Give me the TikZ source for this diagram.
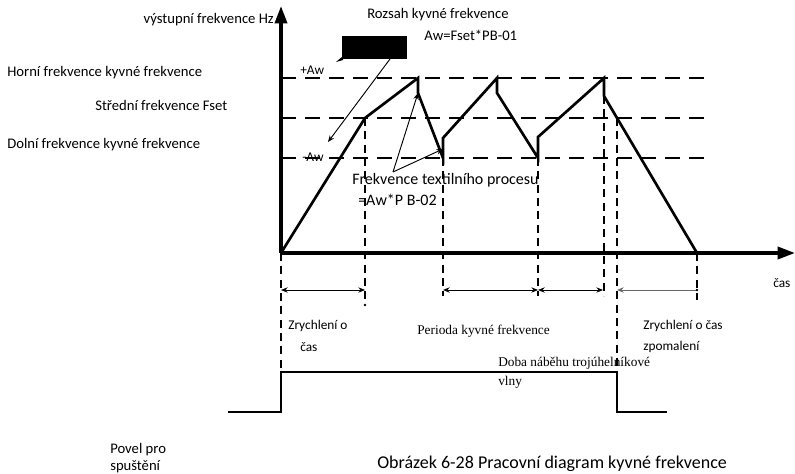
\documentclass[tikz,border=0pt]{standalone}
\usepackage{fontspec}
\setmainfont{Carlito}
\newfontfamily\timesfont{Liberation Serif}
\usetikzlibrary{arrows.meta,positioning}

\begin{document}
\begin{tikzpicture}[x=0.75pt,y=-0.75pt,
        axis/.style={line width=2.6pt,-{Triangle[length=13pt,width=9pt]}},
        level/.style={line width=2.2pt,dash pattern=on 11pt off 7pt},
        guide/.style={line width=2pt,dash pattern=on 6pt off 4pt},
        wave/.style={line width=2pt,line join=miter},
        span/.style={line width=0.7pt,{Stealth[length=5pt,width=4pt]}-{Stealth[length=5pt,width=4pt]}},
        callout/.style={line width=0.7pt,-{Stealth[length=5pt,width=4pt]}},
        lbl/.style={font=\fontsize{10}{12}\selectfont,inner sep=0pt,anchor=west},
        biglbl/.style={lbl,font=\fontsize{11}{13}\selectfont},
        tlbl/.style={lbl,font=\timesfont\fontsize{10}{12}\selectfont}]
        \useasboundingbox (0,0) rectangle (795,474);

        % axes
        \coordinate (O) at (281,253);
        \coordinate (ytop) at (281,6);
        \coordinate (xend) at (795,253);

        % swing levels
        \coordinate (hiL) at (281,78);  \coordinate (hiR) at (708,78);
        \coordinate (midL) at (281,118); \coordinate (midR) at (708,118);
        \coordinate (loL) at (281,158);  \coordinate (loR) at (708,158);

        % output frequency curve
        \coordinate (w1) at (365,118);
        \coordinate (w2) at (418,78);
        \coordinate (w3) at (418,93);
        \coordinate (w4) at (443,158);
        \coordinate (w5) at (443,138);
        \coordinate (w6) at (497,78);
        \coordinate (w7) at (497,93);
        \coordinate (w8) at (538,158);
        \coordinate (w9) at (538,137);
        \coordinate (w10) at (604,78);
        \coordinate (w11) at (604,96);
        \coordinate (w12) at (617,118);
        \coordinate (w13) at (697,253);

        % labels
        \node[biglbl,anchor=east] (yl) at (274,20) {výstupní frekvence Hz};
        \node[biglbl] (range) at (367,15) {Rozsah kyvné frekvence};
        \node[biglbl] (rangeeq) at (424,35) {Aw=Fset*PB-01};
        \node[biglbl] (upper) at (7,73) {Horní frekvence kyvné frekvence};
        \node[biglbl] (centre) at (95,105) {Střední frekvence Fset};
        \node[biglbl] (lower) at (7,145) {Dolní frekvence kyvné frekvence};
        \node[lbl] (plusaw) at (300,70) {+Aw};
        \node[lbl] (minusaw) at (302,157) {-Aw};
        \node[lbl,font=\fontsize{12}{14}\selectfont] (jump) at (352,180) {Frekvence textilního procesu};
        \node[lbl,font=\fontsize{12}{14}\selectfont] (jumpeq) at (358,200) {=Aw*P B-02};
        \node[lbl] (xl) at (773,283) {čas};
        \node[lbl] (acc) at (288,326) {Zrychlení o};
        \node[lbl] (acc2) at (300,347) {čas};
        \node[tlbl] (period) at (417,331) {Perioda kyvné frekvence};
        \node[lbl] (dec) at (643,326) {Zrychlení o čas};
        \node[lbl] (dec2) at (643,347) {zpomalení};
        \node[tlbl] (rise) at (498,363) {Doba náběhu trojúhelníkové};
        \node[tlbl] (rise2) at (498,382) {vlny};
        \node[biglbl] (run) at (110,450) {Povel pro};
        \node[biglbl] (run2) at (110,467) {spuštění};
        \node[lbl,font=\fontsize{13.5}{15}\selectfont] (caption) at (377,464) {Obrázek 6-28 Pracovní diagram kyvné frekvence};

        % dashed levels
        \draw[level] (hiL) -- (hiR);
        \draw[level] (midL) -- (midR);
        \draw[level] (loL) -- (loR);

        % vertical guides
        \draw[guide] (O) -- (281,372);
        \draw[guide] (w1) -- (365,303);
        \draw[guide] (w4) -- (443,296);
        \draw[guide] (w8) -- (538,296);
        \draw[guide] (w11) -- (604,296);
        \draw[guide] (w12) -- (617,372);
        \draw[guide] (w13) -- (697,300);

        \draw[wave] (O) -- (w1) -- (w2) -- (w3) -- (w4) -- (w5) -- (w6) -- (w7)
                -- (w8) -- (w9) -- (w10) -- (w11) -- (w12) -- (w13);

        \draw[axis] (O) -- (ytop);
        \draw[axis] (O) -- (xend);

        % time spans
        \coordinate (t0) at (281,290);
        \coordinate (t1) at (365,290);
        \coordinate (t2) at (443,290);
        \coordinate (t3) at (538,290);
        \coordinate (t4) at (603,290);
        \coordinate (t5) at (617,290);
        \coordinate (t6) at (697,290);
        \draw[span] (t0) -- (t1);
        \draw[span] (t2) -- (t3);
        \draw[span] (t3) -- (t4);
        \draw[callout,black!60] (t6) -- (t5);
        \fill (t6) circle (1pt);
        \fill (365,305) circle (1pt);

        % run command
        \draw[line width=1.4pt] (228,412) -- (281,412) -- (281,372) -- (617,372) -- (617,412) -- (667,412);

        % range box with pointer
        \fill (342,36) rectangle (407,59);
        \fill (343,56) -- (343,60) -- (336,62) -- cycle;
        \coordinate (boxfoot) at (390,59);
        \coordinate (boxtip) at (328,142);
        \draw[callout] (boxfoot) -- (boxtip);

        % jump pointers
        \coordinate (jumpfrom) at (393,172);
        \draw[callout] (jumpfrom) -- (w3);
        \draw[callout] (jumpfrom) -- (443,149);
\end{tikzpicture}
\end{document}
